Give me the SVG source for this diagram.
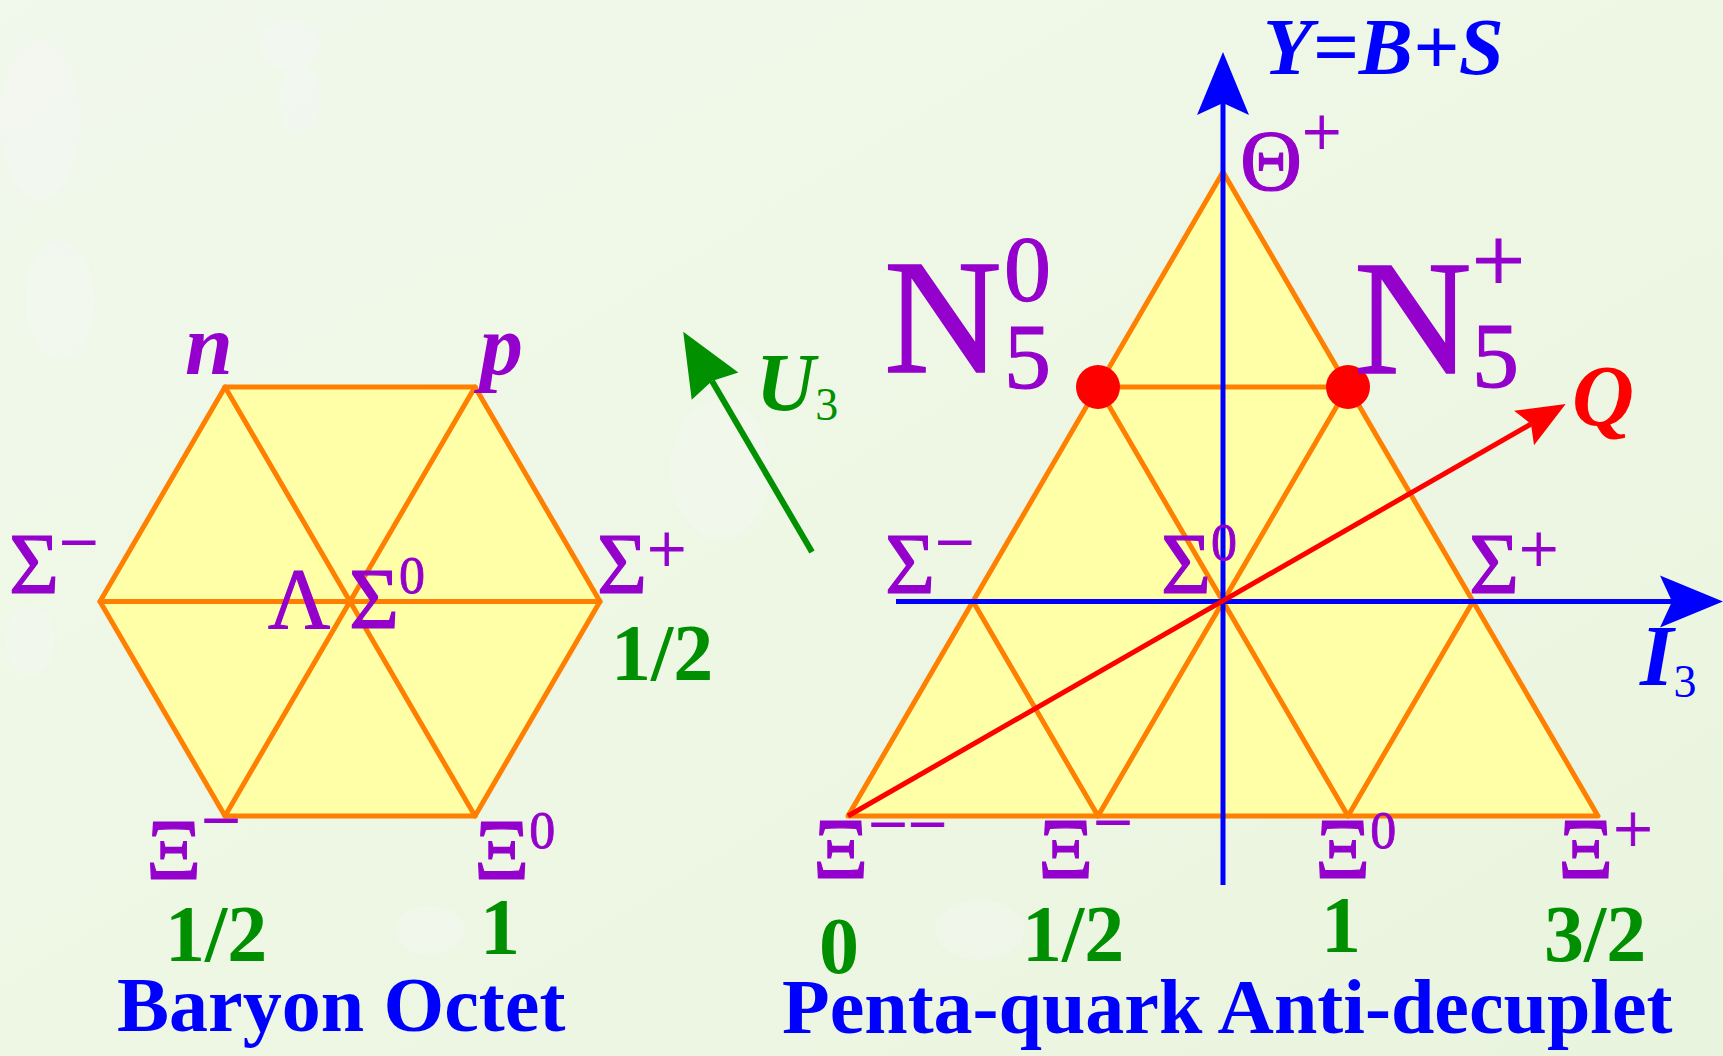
<svg xmlns="http://www.w3.org/2000/svg" width="1723" height="1056" viewBox="0 0 1723 1056">
<style>
.lat{fill:#FFFFA8;stroke:#FF8000;stroke-width:5;stroke-linejoin:round}
.ln{stroke:#FF8000;stroke-width:5;fill:none;stroke-linecap:round}
.sym{font-family:"Liberation Serif","DejaVu Serif",serif;font-size:86px;fill:#9400CC;stroke:#9400CC;stroke-width:1.2}
.it{font-family:"Liberation Serif","DejaVu Serif",serif;font-style:italic;font-weight:bold;font-size:86px;fill:#9400CC}
.num{font-family:"Liberation Serif","DejaVu Serif",serif;font-weight:bold;font-size:80px;fill:#008F00}
.ttl{font-family:"Liberation Serif","DejaVu Serif",serif;font-weight:bold;font-size:78px;fill:#0000FF}
.ax{stroke:#0000FF;stroke-width:5;fill:none}
.sg{font-size:70px;stroke-width:0.8}
.dg{font-size:52px;stroke-width:0.8}
.sub{font-style:normal;font-weight:normal;font-size:46px}
</style>
<defs>
<linearGradient id="bg" x1="0" y1="0" x2="1" y2="1">
<stop offset="0" stop-color="#F1F8EC"/>
<stop offset="0.5" stop-color="#EEF7E4"/>
<stop offset="1" stop-color="#E9F4DE"/>
</linearGradient>
<marker id="hb" markerUnits="userSpaceOnUse" orient="auto" refX="0" refY="0" markerWidth="80" markerHeight="80" overflow="visible">
<path d="M51,0 L-12,-26 L0,0 L-12,26 Z" fill="#0000FF"/>
</marker>
<marker id="hr" markerUnits="userSpaceOnUse" orient="auto" refX="0" refY="0" markerWidth="60" markerHeight="60" overflow="visible">
<path d="M40,0 L-8,-20 L0,0 L-8,20 Z" fill="#FF0000"/>
</marker>
<marker id="hg" markerUnits="userSpaceOnUse" orient="auto" refX="0" refY="0" markerWidth="80" markerHeight="80" overflow="visible">
<path d="M57,0 L-6,-27 L0,0 L-6,27 Z" fill="#009000"/>
</marker>
</defs>
<rect width="1723" height="1056" fill="url(#bg)"/>
<g opacity="0.25" fill="#FAF7FF">
<ellipse cx="40" cy="120" rx="40" ry="80"/>
<ellipse cx="60" cy="300" rx="35" ry="60"/>
<ellipse cx="290" cy="45" rx="30" ry="25"/>
<ellipse cx="300" cy="100" rx="20" ry="35"/>
<ellipse cx="30" cy="640" rx="25" ry="35"/>
<ellipse cx="720" cy="470" rx="50" ry="70"/>
<ellipse cx="980" cy="930" rx="45" ry="30"/>
<ellipse cx="430" cy="930" rx="35" ry="25"/>
</g>

<g id="octet">
<polygon class="lat" points="100,601.5 225,387 475,387 600,601.5 475,816 225,816"/>
<line class="ln" x1="100" y1="601.5" x2="600" y2="601.5"/>
<line class="ln" x1="225" y1="387" x2="475" y2="816"/>
<line class="ln" x1="475" y1="387" x2="225" y2="816"/>
</g>

<g id="antidecuplet">
<polygon class="lat" points="1223,172 1598,816 848,816"/>
<line class="ln" x1="1098" y1="387" x2="1348" y2="387"/>
<line class="ln" x1="973" y1="601.5" x2="1473" y2="601.5"/>
<line class="ln" x1="1098" y1="387" x2="1348" y2="816"/>
<line class="ln" x1="973" y1="601.5" x2="1098" y2="816"/>
<line class="ln" x1="1348" y1="387" x2="1098" y2="816"/>
<line class="ln" x1="1473" y1="601.5" x2="1348" y2="816"/>
</g>

<g id="connectors">
<line class="ax" x1="1223" y1="885" x2="1223" y2="103" marker-end="url(#hb)"/>
<line class="ax" x1="896" y1="601.5" x2="1672" y2="601.5" marker-end="url(#hb)"/>
<line x1="848" y1="816" x2="1531" y2="424" stroke="#FF0000" stroke-width="5" marker-end="url(#hr)"/>
<line x1="812" y1="552" x2="712" y2="381" stroke="#009000" stroke-width="6" marker-end="url(#hg)"/>
</g>

<g id="dots">
<circle cx="1098" cy="387" r="22" fill="#FF0000"/>
<circle cx="1348" cy="387" r="22" fill="#FF0000"/>
</g>

<g id="octet-labels">
<text class="it" x="185" y="374">n</text>
<text class="it" x="480" y="374">p</text>
<text class="sym" x="9" y="593">Σ<tspan class="sg" dy="-27">−</tspan></text>
<text class="sym" x="597" y="593">Σ<tspan class="sg" dy="-20">+</tspan></text>
<text class="sym" x="268" y="628">Λ</text>
<text class="sym" x="349" y="628">Σ<tspan class="dg" dy="-35">0</tspan></text>
<text class="sym" x="146" y="879">Ξ<tspan class="sg" dy="-35">−</tspan></text>
<text class="sym" x="474" y="879">Ξ<tspan class="dg" dy="-31">0</tspan></text>
<text class="num" x="611" y="680">1/2</text>
<text class="num" x="165" y="961">1/2</text>
<text class="num" x="500" y="954" text-anchor="middle">1</text>
<text class="ttl" x="117" y="1031">Baryon Octet</text>
</g>

<g id="antidecuplet-labels">
<text class="sym" x="1240" y="190">Θ<tspan class="sg" dy="-34">+</tspan></text>
<text class="sym" x="884" y="372" style="font-size:163px;stroke-width:1.5">N</text>
<text class="sym" x="1004" y="388" style="font-size:94px">5</text>
<text class="sym" x="1004" y="300" style="font-size:94px">0</text>
<text class="sym" x="1354" y="373" style="font-size:163px;stroke-width:1.5">N</text>
<text class="sym" x="1472" y="387" style="font-size:94px">5</text>
<text class="sym" x="1472" y="292" style="font-size:94px">+</text>
<text class="sym" x="885" y="593">Σ<tspan class="sg" dy="-27">−</tspan></text>
<text class="sym" x="1161" y="593">Σ<tspan class="dg" dy="-33">0</tspan></text>
<text class="sym" x="1469" y="593">Σ<tspan class="sg" dy="-20">+</tspan></text>
<text class="sym" x="813" y="878">Ξ<tspan class="sg" dy="-30">−−</tspan></text>
<text class="sym" x="1038" y="878">Ξ<tspan class="sg" dy="-32">−</tspan></text>
<text class="sym" x="1315" y="878">Ξ<tspan class="dg" dy="-30">0</tspan></text>
<text class="sym" x="1558" y="878">Ξ<tspan class="sg" dy="-25">+</tspan></text>
<text class="num" x="839" y="973" text-anchor="middle">0</text>
<text class="num" x="1022" y="961">1/2</text>
<text class="num" x="1341" y="952" text-anchor="middle">1</text>
<text class="num" x="1544" y="961">3/2</text>
<text class="ttl" x="782" y="1033">Penta-quark Anti-decuplet</text>
</g>

<g id="axis-labels">
<text class="it" x="1263" y="74" style="fill:#0000FF;font-size:81px">Y=B+S</text>
<text class="it" x="1640" y="685" style="fill:#0000FF">I<tspan class="sub" dy="12">3</tspan></text>
<text class="it" x="1572" y="425" style="fill:#FF0000">Q</text>
<text class="it" x="756" y="410" style="fill:#009000;font-size:82px">U<tspan class="sub" dy="10">3</tspan></text>
</g>
</svg>
